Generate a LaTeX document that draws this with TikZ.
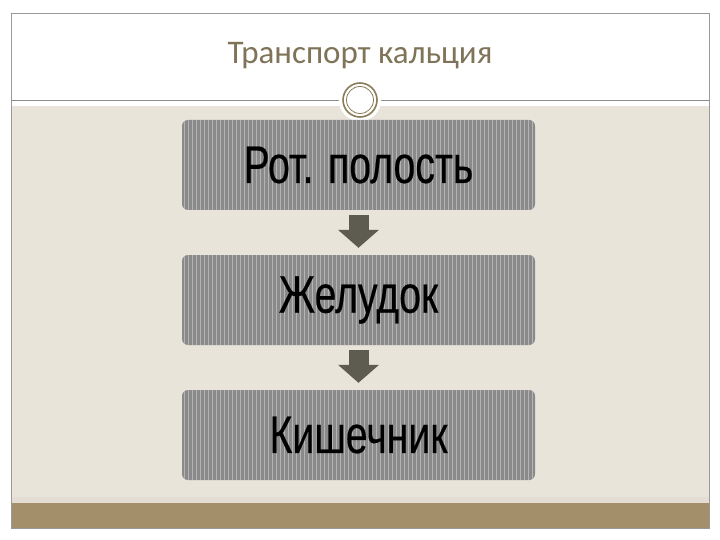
\documentclass[tikz,border=0pt]{standalone}
\usepackage{fontspec}
\setmainfont{Liberation Sans}
\newfontfamily\titlefont{Carlito}
\newfontfamily\organfont[FakeBold=0.4]{Liberation Sans}
\usetikzlibrary{arrows.meta,positioning}
\definecolor{beige}{HTML}{E8E4DA}
\definecolor{band}{HTML}{A48F6B}
\definecolor{titlecol}{HTML}{7F7458}
\definecolor{boxgray}{HTML}{8A8A8A}
\definecolor{stripe}{HTML}{B4B4B4}
\definecolor{arrowcol}{HTML}{5E5B50}
\definecolor{ringcol}{HTML}{8C7B5A}
\tikzset{
  organ/.style={rounded corners=6pt, fill=boxgray, minimum width=353pt, minimum height=90pt,
    inner sep=0pt, font=\organfont\fontsize{53}{53}\selectfont,
    path picture={\foreach \i in {2,6,...,354}
      \draw[stripe, line width=0.9pt] ([xshift=\i pt]path picture bounding box.south west) -- ++(0,90pt);}},
  flow/.style={arrowcol, line width=20pt, -{Triangle[width=40pt,length=18pt]}}
}
\begin{document}
\begin{tikzpicture}[x=1pt,y=-1pt]
            \useasboundingbox (0,0) rectangle (720,540);
            \fill[white] (0,0) rectangle (720,540);
            \fill[beige] (11,106) rectangle (709,503);
            \fill[band!30!white] (11,497) rectangle (709,503);
            \fill[band] (11,503) rectangle (709,528);
            \draw[gray!80, line width=0.8pt] (11,13) rectangle (709,528);
            \draw[gray!90, line width=0.8pt] (11,100) -- (709,100);

            \node[text=titlecol, font=\titlefont\fontsize{33}{33}\selectfont] (title) at (360,56) {Транспорт кальция};

            \filldraw[white] (360,100) circle (21);
            \draw[ringcol, line width=1.6pt] (360,100) circle (17);
            \draw[ringcol, line width=0.8pt, fill=white] (360,100) circle (13.5);

            \node[organ] (rot) at (358.5,165) {\scalebox{0.74}[1]{Рот. полость}};
            \node[organ] (zhel) at (358.5,300) {\scalebox{0.74}[1]{Желудок}};
            \node[organ] (kish) at (358.5,435) {\scalebox{0.74}[1]{Кишечник}};

            \draw[flow] ([yshift=-5pt]rot.south) -- ([yshift=7pt]zhel.north);
            \draw[flow] ([yshift=-5pt]zhel.south) -- ([yshift=7pt]kish.north);
        \end{tikzpicture}
\end{document}
